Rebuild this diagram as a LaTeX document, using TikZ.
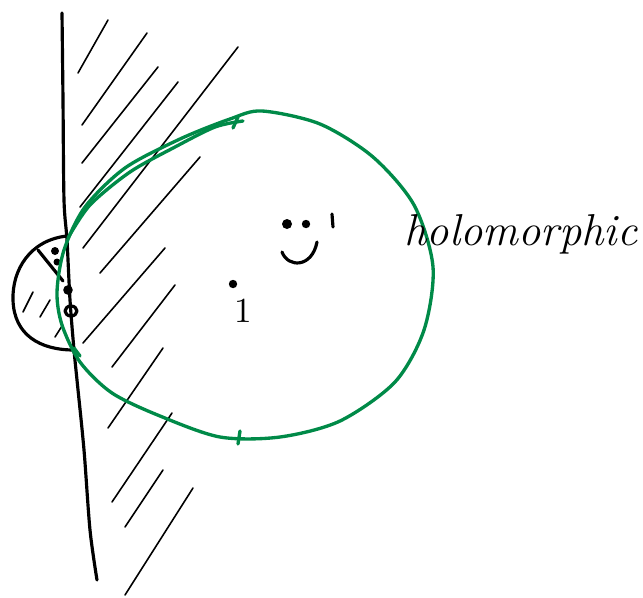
\documentclass[tikz,border=0pt]{standalone}
\usepackage{tikz}
\definecolor{holgreen}{RGB}{0,138,72}
\tikzset{
  pen/.style={line width=0.9pt,line cap=round,line join=round},
  hatch/.style={line width=0.45pt,line cap=round},
  greenpen/.style={holgreen,line width=0.95pt,line cap=round,line join=round},
  label/.style={inner sep=0pt}
}
\begin{document}
\begin{tikzpicture}[x=0.01cm,y=-0.01cm]
  \useasboundingbox (0,0) rectangle (643,597);
  % boundary line
  \draw[pen] plot[smooth] coordinates {(62,13) (63,100) (64,200) (67,240) (70,300) (74,350) (77,380) (84,450) (90,530) (97,580)};
  % small half disc on the left
  \draw[pen] (67,236) .. controls (30,240) and (12,270) .. (13,300) .. controls (14,335) and (40,350) .. (74,350);
  \foreach \a/\b in {{23,312}/{33,292},{40,317}/{50,300},{55,337}/{62,326}}
    \draw[hatch] (\a) -- (\b);
  \draw[pen] (38,250) -- (63,281);
  \fill (55,251) circle (4);
  \fill (57,262) circle (3.5);
  \fill (68,290) circle (4.8);
  \draw[pen] (71,311) ellipse (6 and 5);
  % hatching
  \foreach \a/\b in {{78,73}/{108,20},{82,125}/{147,33},{82,163}/{158,67},{80,207}/{178,82},
                     {83,248}/{238,47},{100,273}/{200,157},{83,343}/{165,248},{112,367}/{175,285},
                     {108,428}/{163,348},{112,502}/{172,413},{125,527}/{163,470},{125,595}/{193,488}}
    \draw[hatch] (\a) -- (\b);
  % green circle
  \draw[greenpen] plot[smooth cycle] coordinates {(262,111) (320,124) (373,157) (414,205)
    (433,267) (424,330) (395,382) (340,421) (280,437) (220,437) (160,416) (112,393) (80,362)
    (62,325) (57,292) (64,250) (85,207) (125,168) (180,139) (230,119)};
  \draw[greenpen] plot[smooth] coordinates {(68,238) (90,205) (130,172) (175,147) (215,127) (243,121)};
  \draw[greenpen] (238,117) -- (233,128);
  \draw[greenpen] (240,431) -- (238,444);
  \draw[greenpen] (74,348) -- (80,356);
  % points
  \fill (233,284) circle (4.2);
  \node[label] (one) at (243,311) {1};
  \fill (287,224) circle (5);
  \fill (306,224) circle (4.2);
  \draw[pen] (332,214) -- (333,227);
  \draw[pen] (282,252) .. controls (288,268) and (312,268) .. (317,242);
  % label
  \node[label] (holo) at (521,234) {\fontsize{12.7}{14}\selectfont\itshape holomorphic};
\end{tikzpicture}
\end{document}
